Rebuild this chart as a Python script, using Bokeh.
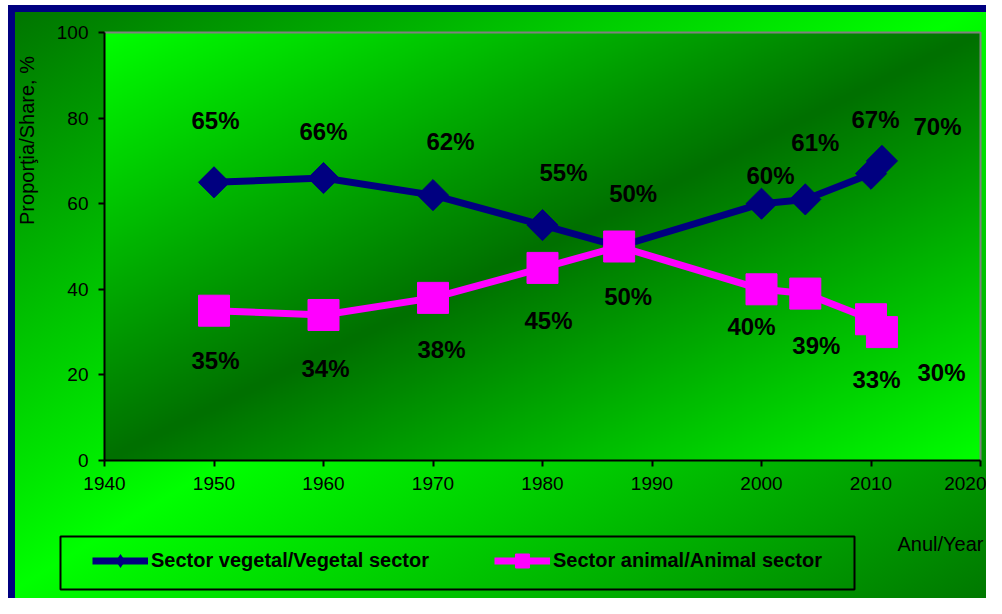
import numpy as np
from bokeh.plotting import figure
from bokeh.models import Range1d, FixedTicker, Legend, LegendItem, Label, ColumnDataSource, BoxAnnotation
from bokeh.core.properties import value
from bokeh.embed import file_html
from bokeh.resources import INLINE

# ---- data ----
years = [1950, 1960, 1970, 1980, 1987, 2000, 2004, 2010, 2011]
vegetal = [65, 66, 62, 55, 50, 60, 61, 67, 70]
animal = [35, 34, 38, 45, 50, 40, 39, 33, 30]
x_ticks = [1940, 1950, 1960, 1970, 1980, 1990, 2000, 2010, 2020]
y_ticks = [0, 20, 40, 60, 80, 100]
series_names = ["Sector vegetal/Vegetal sector", "Sector animal/Animal sector"]
x_title = "Anul/Year"
y_title = "Proporţia/Share, %"

# ---- label placement (pixel offsets, style only) ----
veg_dx = [1.5, 0, 17.5, 21, 14, 9, 10, 4.5, 55.5]
veg_dy = [-62, -46.5, -53.6, -52.6, -53, -28, -57, -54, -34]
ani_dx = [1.5, 2, 8.5, 6, 9, -10, 11, 5.5, 59.5]
ani_dy = [50, 53.5, 51.6, 52.6, 50, 37, 52, 60, 40.5]

FONT_NAME = "Liberation Sans"
FONT = value(FONT_NAME)

# ---- layout geometry (pixels) ----
W, H = 986, 598
AREA_L, AREA_R, AREA_T, AREA_B = 104, 980, 32, 460
x_lo, x_hi = x_ticks[0], x_ticks[-1]
y_lo, y_hi = y_ticks[0], y_ticks[-1]
kx = (AREA_R - AREA_L) / (x_hi - x_lo)
ky = (AREA_B - AREA_T) / (y_hi - y_lo)


def px_to_x(px):
    return x_lo + (px - AREA_L) / kx


def py_to_y(py):
    return y_lo + (AREA_B - py) / ky


p = figure(width=W, height=H, output_backend="svg", toolbar_location=None,
           x_range=Range1d(px_to_x(0), px_to_x(W)), y_range=Range1d(py_to_y(H), py_to_y(0)),
           min_border=0, min_border_left=0, min_border_right=0, min_border_top=0, min_border_bottom=0)
p.title.visible = False

p.styles = {
    "background": "linear-gradient(to bottom right, #007000 0%, #00ff00 50%, #007800 100%)",
    "box-shadow": ("inset 8px 0 0 0 #ffffff, inset 0 5px 0 0 #ffffff, "
                   "inset 15px 0 0 0 #000080, inset 0 12px 0 0 #000080"),
}
p.border_fill_alpha = 0
p.background_fill_alpha = 0
p.outline_line_color = None
p.xgrid.visible = False
p.ygrid.visible = False

# plot-area gradient background (decoration)
n = 300
u = np.linspace(0, 1, n)[None, :]
v = np.linspace(0, 1, n)[:, None]
t = (u + (1 - v)) / 2
g = 112 + (255 - 112) * np.abs(2 * t - 1)
img = np.zeros((n, n), dtype=np.uint32)
view = img.view(dtype=np.uint8).reshape((n, n, 4))
view[..., 0] = 0
view[..., 1] = g.astype(np.uint8)
view[..., 2] = 0
view[..., 3] = 255
p.image_rgba(image=[img], x=x_lo, y=y_lo, dw=x_hi - x_lo, dh=y_hi - y_lo)
# grey top/right edge of plot area
p.line([x_lo, x_hi, x_hi], [y_hi, y_hi, y_lo], line_color="#808080", line_width=2)

# axes (drawn at the plot-area edges)
for ax in (p.xaxis[0], p.yaxis[0]):
    ax.axis_line_color = "black"
    ax.axis_line_width = 2
    ax.major_tick_line_color = "black"
    ax.major_tick_line_width = 2
    ax.major_tick_out = 6
    ax.major_tick_in = 0
    ax.minor_tick_line_color = None
    ax.major_label_text_font = FONT_NAME
    ax.major_label_text_font_size = "19px"
    ax.major_label_text_color = "black"
    ax.major_label_standoff = 10
p.xaxis[0].ticker = FixedTicker(ticks=x_ticks)
p.yaxis[0].ticker = FixedTicker(ticks=y_ticks)
p.xaxis[0].fixed_location = y_lo
p.yaxis[0].fixed_location = x_lo
p.xaxis[0].bounds = (x_lo, x_hi)
p.yaxis[0].bounds = (y_lo, y_hi)

veg_src = ColumnDataSource(dict(x=years, y=vegetal, lbl=[f"{v}%" for v in vegetal], dx=veg_dx, dy=veg_dy))
ani_src = ColumnDataSource(dict(x=years, y=animal, lbl=[f"{v}%" for v in animal], dx=ani_dx, dy=ani_dy))

veg_line = p.line("x", "y", source=veg_src, line_color="#000080", line_width=7)
veg_pts = p.scatter("x", "y", source=veg_src, marker="square", angle=np.pi / 4, size=22,
                    fill_color="#000080", line_color="#000080")
ani_line = p.line("x", "y", source=ani_src, line_color="#FF00FF", line_width=7)
ani_pts = p.scatter("x", "y", source=ani_src, marker="square", size=31,
                    fill_color="#FF00FF", line_color="#FF00FF")
# legend key symbol: diamond of zero size on the plot (only the legend shows it)
veg_key = p.scatter("x", "y", source=veg_src, marker="diamond", size=0,
                    fill_color="#000080", line_color="#000080", line_width=0)

for src in (veg_src, ani_src):
    p.text("x", "y", text="lbl", x_offset="dx", y_offset="dy", source=src,
           text_font=FONT, text_font_size="24px", text_font_style="bold",
           text_color="black", text_align="center", text_baseline="middle")

# axis titles
p.add_layout(Label(x=px_to_x(940), y=py_to_y(543), text=x_title,
                   text_font=FONT_NAME, text_font_size="20px", text_color="black",
                   text_align="center", text_baseline="middle"))
p.add_layout(Label(x=px_to_x(26), y=py_to_y(140), text=y_title, angle=np.pi / 2,
                   text_font=FONT_NAME, text_font_size="20px", text_color="black",
                   text_align="center", text_baseline="middle"))

# legend frame (decoration)
p.add_layout(BoxAnnotation(left=px_to_x(60), right=px_to_x(854), top=py_to_y(536), bottom=py_to_y(589),
                           fill_alpha=0, line_color="black", line_width=2, line_alpha=1))

legend = Legend(items=[LegendItem(label=series_names[0], renderers=[veg_line, veg_key]),
                       LegendItem(label=series_names[1], renderers=[ani_line, ani_pts])],
                orientation="horizontal", location=(92, 20), padding=12, spacing=53,
                glyph_width=56, glyph_height=35, label_standoff=3, label_width=290,
                label_text_font=FONT_NAME, label_text_font_size="20px", label_text_font_style="bold",
                label_text_color="black", border_line_color=None,
                background_fill_alpha=0, margin=0)
p.add_layout(legend)

open("out.html", "w").write(file_html(p, INLINE))
